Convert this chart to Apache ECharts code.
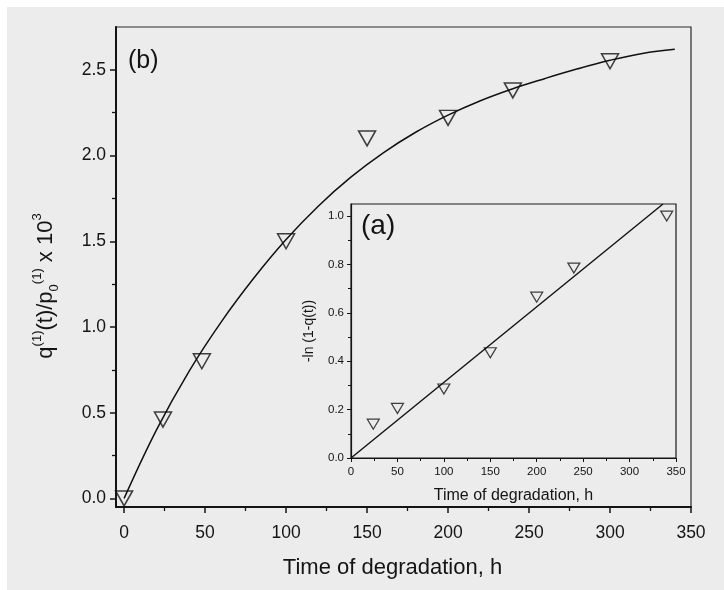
<!DOCTYPE html>
<html><head><meta charset="utf-8">
<script src="https://cdn.jsdelivr.net/npm/echarts@6/dist/echarts.min.js"></script>
<style>
html,body{margin:0;padding:0;background:#fff}
#wrap{position:relative;width:724px;height:590px;background:#fff;overflow:hidden}
#paper{position:absolute;left:7px;top:7px;right:0;bottom:0;background:#ececec}
#c{position:absolute;left:0;top:0;width:724px;height:590px}
</style>
</head><body><div id="wrap"><div id="paper"></div><div id="c"></div></div>
<script>
// ---- main panel (b): measured points ----
const mainTime = [0, 24, 48, 100, 150, 200, 240, 300];
const mainRatio = [0.0, 0.46, 0.80, 1.50, 2.10, 2.22, 2.38, 2.55];
// fitted curve
const fitTime = [0, 20, 40, 60, 80, 100, 120, 140, 160, 180, 200, 220, 240, 260, 280, 300, 320, 340];
const fitRatio = [0, 0.40, 0.74, 1.03, 1.284, 1.51, 1.706, 1.874, 2.016, 2.136, 2.236, 2.32, 2.39, 2.45, 2.506, 2.556, 2.596, 2.62];
// ---- inset panel (a) ----
const insetTime = [24, 50, 100, 150, 200, 240, 340];
const insetLn = [0.14, 0.205, 0.285, 0.435, 0.665, 0.785, 1.00];
const insetFitTime = [0, 336];
const insetFitLn = [0, 1.05];
// ---- ticks ----
const mainXTicks = [0, 50, 100, 150, 200, 250, 300, 350];
const mainXMinor = [25, 75, 125, 175, 225, 275, 325];
const mainYTicks = [0, 0.5, 1.0, 1.5, 2.0, 2.5];
const mainYMinor = [0.25, 0.75, 1.25, 1.75, 2.25];
const insetXTicks = [0, 50, 100, 150, 200, 250, 300, 350];
const insetXMinor = [25, 75, 125, 175, 225, 275, 325];
const insetYTicks = [0, 0.2, 0.4, 0.6, 0.8, 1.0];
const insetYMinor = [0.1, 0.3, 0.5, 0.7, 0.9];

const FONT = 'Liberation Sans';
const INK = '#141414';
const zip = (a, b) => a.map((v, i) => [v, b[i]]);

const chart = echarts.init(document.getElementById('c'), null, {renderer: 'canvas'});

function axisBase(grid, min, max, pos) {
  return {type: 'value', gridIndex: grid, min: min, max: max, position: pos, splitLine: {show: false}};
}

const option = {
  animation: false,
  backgroundColor: 'transparent',
  textStyle: {fontFamily: FONT, color: INK},
  grid: [
    {left: 116, top: 27, width: 575, height: 480, show: true, borderColor: '#2a2a2a', borderWidth: 1.2, backgroundColor: 'transparent'},
    {left: 351, top: 204, width: 325, height: 254, show: true, borderColor: '#1a1a1a', borderWidth: 1.2, backgroundColor: 'transparent'}
  ],
  xAxis: [
    Object.assign(axisBase(0, -5, 350, 'bottom'), {
      axisLine: {onZero: false, lineStyle: {color: INK, width: 2}},
      axisTick: {customValues: mainXTicks, length: 6, lineStyle: {color: INK, width: 1.5}},
      axisLabel: {customValues: mainXTicks, fontSize: 17.5, margin: 17, color: INK, fontFamily: FONT},
      name: 'Time of degradation, h', nameLocation: 'middle', nameGap: 50,
      nameTextStyle: {fontSize: 22, color: INK, fontFamily: FONT, padding: [0, 22, 0, 0]}
    }),
    Object.assign(axisBase(0, -5, 350, 'bottom'), {
      axisLine: {show: false, onZero: false},
      axisTick: {customValues: mainXMinor, length: 4, lineStyle: {color: INK, width: 1.3}},
      axisLabel: {show: false}
    }),
    Object.assign(axisBase(1, 0, 350, 'bottom'), {
      axisLine: {onZero: false, lineStyle: {color: INK, width: 1.2}},
      axisTick: {customValues: insetXTicks, length: 4, lineStyle: {color: INK, width: 1}},
      axisLabel: {customValues: insetXTicks, fontSize: 11.5, margin: 8, color: INK, fontFamily: FONT},
      name: 'Time of degradation, h', nameLocation: 'middle', nameGap: 30,
      nameTextStyle: {fontSize: 16, color: INK, fontFamily: FONT}
    }),
    Object.assign(axisBase(1, 0, 350, 'bottom'), {
      axisLine: {show: false, onZero: false},
      axisTick: {customValues: insetXMinor, length: 3, lineStyle: {color: INK, width: 1}},
      axisLabel: {show: false}
    })
  ],
  yAxis: [
    Object.assign(axisBase(0, -0.05, 2.75, 'left'), {
      axisLine: {onZero: false, lineStyle: {color: INK, width: 2}},
      axisTick: {customValues: mainYTicks, length: 6, lineStyle: {color: INK, width: 1.5}},
      axisLabel: {customValues: mainYTicks, fontSize: 17.5, margin: 10, color: INK, fontFamily: FONT,
                  formatter: v => v.toFixed(1)},
      name: '{b|q}{s|(1)}{b|(t)/p}{d|0}{s|(1)}{b| x 10}{s|3}',
      nameLocation: 'middle', nameRotate: 90, nameGap: 55,
      nameTextStyle: {
        color: INK, fontFamily: FONT, lineHeight: 30, padding: [0, 38, 0, 0],
        rich: {
          b: {fontSize: 22, fontFamily: FONT, color: INK, verticalAlign: 'middle'},
          s: {fontSize: 13, fontFamily: FONT, color: INK, verticalAlign: 'top'},
          d: {fontSize: 13, fontFamily: FONT, color: INK, verticalAlign: 'bottom'}
        }
      }
    }),
    Object.assign(axisBase(0, -0.05, 2.75, 'left'), {
      axisLine: {show: false, onZero: false},
      axisTick: {customValues: mainYMinor, length: 4, lineStyle: {color: INK, width: 1.3}},
      axisLabel: {show: false}
    }),
    Object.assign(axisBase(1, 0, 1.05, 'left'), {
      axisLine: {onZero: false, lineStyle: {color: INK, width: 1.2}},
      axisTick: {customValues: insetYTicks, length: 4, lineStyle: {color: INK, width: 1}},
      axisLabel: {customValues: insetYTicks, fontSize: 11.5, margin: 7, color: INK, fontFamily: FONT,
                  formatter: v => v.toFixed(1)},
      name: '-ln (1-q(t))', nameLocation: 'middle', nameRotate: 90, nameGap: 35,
      nameTextStyle: {fontSize: 14, color: INK, fontFamily: FONT}
    }),
    Object.assign(axisBase(1, 0, 1.05, 'left'), {
      axisLine: {show: false, onZero: false},
      axisTick: {customValues: insetYMinor, length: 3, lineStyle: {color: INK, width: 1}},
      axisLabel: {show: false}
    })
  ],
  graphic: [
    {type: 'text', left: 128, top: 49, style: {text: '(b)', font: '25px "Liberation Sans"', fill: INK}},
    {type: 'text', left: 361, top: 212, style: {text: '(a)', font: '28px "Liberation Sans"', fill: INK}}
  ],
  series: [
    {type: 'line', xAxisIndex: 0, yAxisIndex: 0, data: zip(fitTime, fitRatio), smooth: 0.4,
     showSymbol: false, lineStyle: {color: '#111', width: 1.5}, z: 3},
    {type: 'scatter', xAxisIndex: 0, yAxisIndex: 0, data: zip(mainTime, mainRatio),
     symbol: 'triangle', symbolRotate: 180, symbolSize: [17, 15],
     itemStyle: {color: 'rgba(0,0,0,0)', borderColor: '#111', borderWidth: 1.5}, z: 4},
    {type: 'line', xAxisIndex: 2, yAxisIndex: 2, data: zip(insetFitTime, insetFitLn),
     showSymbol: false, lineStyle: {color: '#111', width: 1.4}, z: 3},
    {type: 'scatter', xAxisIndex: 2, yAxisIndex: 2, data: zip(insetTime, insetLn),
     symbol: 'triangle', symbolRotate: 180, symbolSize: [12, 10],
     itemStyle: {color: 'rgba(0,0,0,0)', borderColor: '#111', borderWidth: 1.2}, z: 4}
  ]
};
chart.setOption(option);
</script>
</body></html>
